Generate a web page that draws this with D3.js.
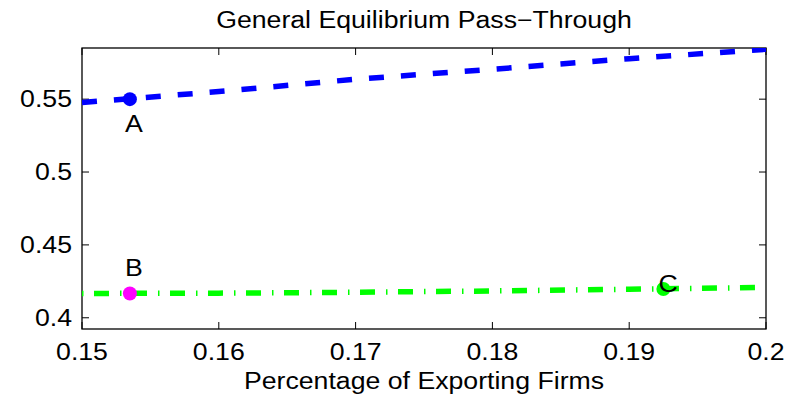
<!DOCTYPE html>
<html>
<head>
<meta charset="utf-8">
<script src="https://cdn.jsdelivr.net/npm/d3@7"></script>
<style>
  body { margin: 0; background: #fff; }
  text { font-family: "Liberation Sans", Arial, Helvetica, sans-serif; fill: #000; }
</style>
</head>
<body>
<script>
// data
var xTicks = [0.15, 0.16, 0.17, 0.18, 0.19, 0.2];
var yTicks = [0.4, 0.45, 0.5, 0.55];
var xTickLabels = ["0.15", "0.16", "0.17", "0.18", "0.19", "0.2"];
var yTickLabels = ["0.4", "0.45", "0.5", "0.55"];

var gridX = [0.15, 0.16, 0.17, 0.18, 0.19, 0.2];
var blueValues = [0.5477, 0.5552, 0.5637, 0.5705, 0.5778, 0.5842];
var greenValues = [0.4167, 0.4169, 0.4175, 0.4184, 0.4196, 0.4208];

var pointNames = ["A", "B", "C"];
var pointX = [0.1535, 0.1535, 0.1925];
var pointY = [0.5500, 0.4167, 0.4197];
var pointColors = ["#0000ff", "#ff00ff", "#00ff00"];

var titleText = "General Equilibrium Pass\u2212Through";
var xLabelText = "Percentage of Exporting Firms";

// Set the dimensions of the plot box
var width = 788, height = 396;
var box = {left: 82, right: 766, top: 48, bottom: 329};
var stretch = 1.16; // text in the reference is a bit wide

var svg = d3.select("body").append("svg")
    .attr("width", width)
    .attr("height", height);

var x = d3.scaleLinear().domain([0.15, 0.2]).range([box.left, box.right]);
var y = d3.scaleLinear().domain([0.3923, 0.5851]).range([box.bottom, box.top]);

svg.append("clipPath").attr("id", "plotclip")
  .append("rect")
    .attr("x", box.left).attr("y", box.top)
    .attr("width", box.right - box.left).attr("height", box.bottom - box.top);

function stretchedText(g, tx, ty, str, anchor) {
  return g.append("text")
      .attr("transform", "translate(" + tx + "," + ty + ") scale(" + stretch + ",1)")
      .attr("text-anchor", anchor)
      .style("font-size", "23px")
      .text(str);
}

// ****************** axes ***************************
var tickLen = 7;
var axes = svg.append("g").attr("class", "axes");

// inward ticks on all four sides
xTicks.forEach(function(v) {
  axes.append("line").attr("x1", x(v)).attr("x2", x(v))
      .attr("y1", box.bottom).attr("y2", box.bottom - tickLen);
  axes.append("line").attr("x1", x(v)).attr("x2", x(v))
      .attr("y1", box.top).attr("y2", box.top + tickLen);
});
yTicks.forEach(function(v) {
  axes.append("line").attr("x1", box.left).attr("x2", box.left + tickLen)
      .attr("y1", y(v)).attr("y2", y(v));
  axes.append("line").attr("x1", box.right).attr("x2", box.right - tickLen)
      .attr("y1", y(v)).attr("y2", y(v));
});
axes.selectAll("line").attr("stroke", "#000").attr("stroke-width", 1);

axes.append("rect")
    .attr("x", box.left).attr("y", box.top)
    .attr("width", box.right - box.left).attr("height", box.bottom - box.top)
    .attr("fill", "none").attr("stroke", "#000").attr("stroke-width", 1.3);

// tick labels
xTicks.forEach(function(v, i) {
  stretchedText(svg, x(v), 360, xTickLabels[i], "middle");
});
yTicks.forEach(function(v, i) {
  stretchedText(svg, 72, y(v) + 8, yTickLabels[i], "end");
});

// ****************** lines ***************************
var line = d3.line()
    .x(function(d) { return x(d[0]); })
    .y(function(d) { return y(d[1]); });

var plot = svg.append("g").attr("clip-path", "url(#plotclip)");

plot.append("path")
    .datum(gridX.map(function(v, i) { return [v, greenValues[i]]; }))
    .attr("d", line)
    .attr("fill", "none")
    .attr("stroke", "#00ff00")
    .attr("stroke-width", 5.5)
    .attr("stroke-dasharray", "1.5,10.5,15,11");

plot.append("path")
    .datum(gridX.map(function(v, i) { return [v, blueValues[i]]; }))
    .attr("d", line)
    .attr("fill", "none")
    .attr("stroke", "#0000ff")
    .attr("stroke-width", 5.5)
    .attr("stroke-dasharray", "15,17");

// points
pointNames.forEach(function(n, i) {
  plot.append("circle")
      .attr("cx", x(pointX[i]))
      .attr("cy", y(pointY[i]))
      .attr("r", 7)
      .attr("fill", pointColors[i]);
});

// point labels
var labelPos = [[134, 132], [134, 276], [668, 292]];
pointNames.forEach(function(n, i) {
  stretchedText(svg, labelPos[i][0], labelPos[i][1], n, "middle");
});

// titles
stretchedText(svg, (box.left + box.right) / 2, 28, titleText, "middle");
stretchedText(svg, (box.left + box.right) / 2, 389, xLabelText, "middle");
</script>
</body>
</html>
